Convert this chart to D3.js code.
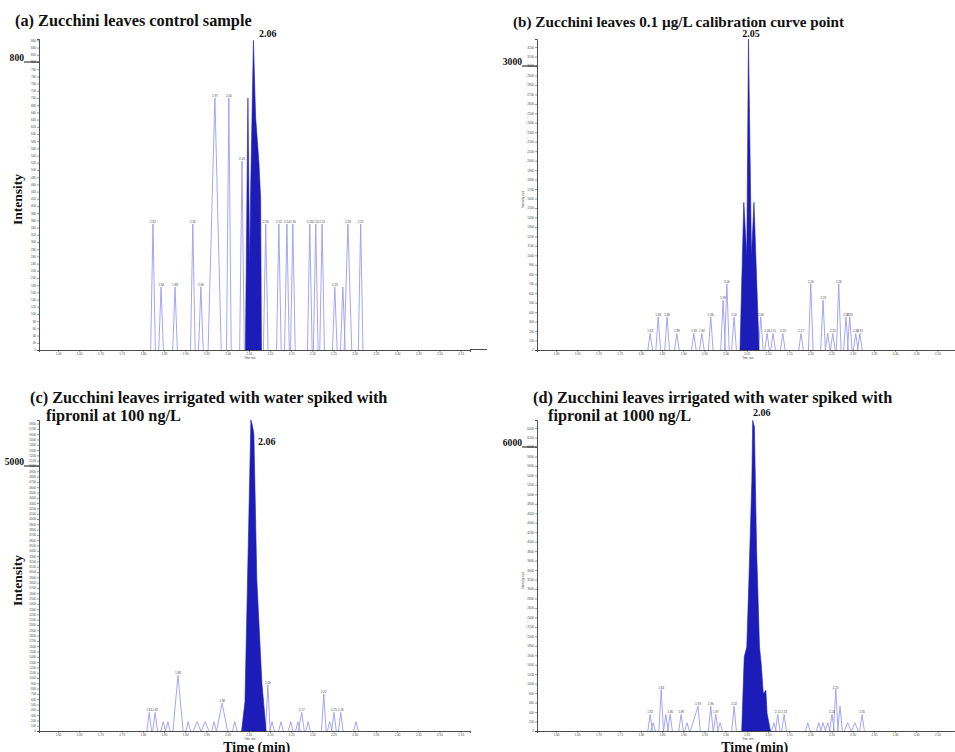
<!DOCTYPE html>
<html lang="en">
<head>
<meta charset="UTF-8">
<title>fipronil chromatograms</title>
<script src="https://cdn.jsdelivr.net/npm/d3@7"></script>
<style>
  body { margin: 0; background: #fff; }
  svg { display: block; }
  .serif { font-family: "Liberation Serif", "Times New Roman", serif; font-weight: bold; fill: #111; }
  .tiny { font-family: "Liberation Sans", Arial, sans-serif; fill: #444; }
</style>
</head>
<body>
<script>
// ---- data ----
// small peaks: [time (min), intensity, label, left half-width, right half-width]
const peaksA = [
  [1.824, 350, "1.82"], [1.843, 175, "1.84"], [1.876, 175, "1.88"],
  [1.918, 350, "1.92"], [1.937, 175, "1.94"], [1.970, 700, "1.97", 0.016, 0.015],
  [2.003, 700, "2.00"], [2.034, 525, "2.03"], [2.090, 350, "2.09"],
  [2.121, 350, "2.12"], [2.140, 350, "2.14"], [2.154, 350, "2.16"],
  [2.194, 350, "2.19"], [2.208, 350, "2.20"], [2.223, 350, "2.22"],
  [2.253, 175, "2.25"], [2.272, 175, ""], [2.284, 350, "2.28", 0.009, 0.009],
  [2.314, 350, "2.31"]
];
const peaksB = [
  [1.822, 175, "1.82"], [1.841, 350, "1.84"], [1.862, 350, "1.86"],
  [1.885, 175, "1.89"], [1.925, 175, "1.93"], [1.944, 175, "1.94"],
  [1.965, 350, "1.96"], [1.994, 525, "1.99"], [2.003, 700, "2.00"],
  [2.020, 350, "2.02"], [2.083, 350, "2.08"], [2.098, 175, "2.09"],
  [2.112, 175, "2.11"], [2.135, 175, "2.13"], [2.178, 175, "2.17"],
  [2.201, 700, "2.20"], [2.230, 525, "2.23"], [2.241, 175, ""],
  [2.253, 175, "2.25"], [2.267, 700, "2.26"], [2.284, 350, "2.28"],
  [2.293, 350, "2.29"], [2.307, 175, "2.30"], [2.317, 175, "2.31"]
];
const peaksC = [
  [1.815, 350, "1.81"], [1.829, 350, "1.82"], [1.848, 175, ""], [1.859, 175, ""],
  [1.883, 1050, "1.88", 0.012, 0.012], [1.907, 175, ""], [1.928, 175, "", 0.009, 0.009],
  [1.947, 175, "", 0.009, 0.009], [1.968, 175, ""], [1.987, 525, "1.98", 0.013, 0.013],
  [2.017, 175, ""], [2.095, 875, "2.09"], [2.105, 175, ""], [2.126, 175, ""],
  [2.149, 175, ""], [2.166, 175, ""], [2.175, 350, "2.17", 0.008, 0.006],
  [2.190, 175, ""], [2.227, 700, "2.22"], [2.241, 175, ""], [2.251, 350, "2.25"],
  [2.267, 350, "2.26"], [2.303, 175, ""]
];
const peaksD = [
  [1.822, 350, "1.82"], [1.829, 175, ""], [1.848, 875, "1.84"], [1.859, 350, ""],
  [1.869, 350, "1.86"], [1.895, 350, "1.89"], [1.909, 175, ""],
  [1.935, 525, "1.93", 0.018, 0.005], [1.965, 525, "1.96"], [1.977, 350, "1.97"],
  [1.987, 175, ""], [2.020, 525, "2.02"], [2.114, 175, ""], [2.123, 350, "2.12"],
  [2.138, 350, "2.13"], [2.194, 175, ""], [2.220, 175, ""], [2.230, 175, ""],
  [2.241, 175, ""], [2.251, 350, "2.24"], [2.260, 875, "2.25"], [2.270, 525, ""],
  [2.288, 175, "", 0.008, 0.008], [2.305, 175, "", 0.008, 0.008], [2.322, 350, "2.31"]
];

// fipronil peak outline (time, intensity)
const mainTimeA = [2.042, 2.048, 2.052, 2.054, 2.061, 2.066, 2.074, 2.078, 2.080];
const mainIntA = [0, 700, 230, 420, 860, 650, 520, 420, 0];
const mainTimeB = [2.034, 2.043, 2.050, 2.054, 2.061, 2.067, 2.079];
const mainIntB = [0, 1560, 986, 3285, 986, 1560, 0];
const mainTimeC = [2.033, 2.041, 2.055, 2.059, 2.062, 2.069, 2.081, 2.091];
const mainIntC = [0, 550, 5870, 5750, 5600, 2850, 900, 0];
const mainTimeD = [2.038, 2.044, 2.050, 2.055, 2.062, 2.064, 2.068, 2.073, 2.080, 2.084, 2.089, 2.095, 2.098, 2.106];
const mainIntD = [0, 1563, 1775, 3183, 5296, 6563, 6423, 3887, 1775, 1423, 789, 859, 366, 0];

const titleA = ["(a) Zucchini leaves control sample"];
const titleB = ["(b) Zucchini leaves 0.1 µg/L calibration curve point"];
const titleC = ["(c) Zucchini leaves irrigated with water spiked with", "fipronil at 100 ng/L"];
const titleD = ["(d) Zucchini leaves irrigated with water spiked with", "fipronil at 1000 ng/L"];

const apexLabels = ["2.06", "2.05", "2.06", "2.06"];
const refValues = [800, 3000, 5000, 6000];
const yStepValues = [20, 100, 100, 200];
const xTickValues = [1.60, 1.65, 1.70, 1.75, 1.80, 1.85, 1.90, 1.95, 2.00, 2.05,
  2.10, 2.15, 2.20, 2.25, 2.30, 2.35, 2.40, 2.45, 2.50, 2.55];
const timeDomain = [1.555, 2.572];

// ---- layout ----
const width = 955, height = 752;
const lineColor = "#9c9cf0";
const fillColor = "#1c1cb8";
const plotWidth = 431;

const svg = d3.select("body").append("svg")
  .attr("width", width)
  .attr("height", height);

const panels = [
  { title: titleA, titlePos: [[15, 26]], titleSize: 16.3, peaks: peaksA, mt: mainTimeA, mi: mainIntA,
    left: 39, baseY: 350, topY: 39, refY: 62, apexPos: [259, 37, "start"],
    bigY: true, tinyY: false, timeLabel: false },
  { title: titleB, titlePos: [[513, 27]], titleSize: 15.2, peaks: peaksB, mt: mainTimeB, mi: mainIntB,
    left: 537, baseY: 350, topY: 39, refY: 66, apexPos: [751, 37, "middle"],
    bigY: false, tinyY: true, timeLabel: false },
  { title: titleC, titlePos: [[30, 403], [46, 421]], titleSize: 16.3, peaks: peaksC, mt: mainTimeC, mi: mainIntC,
    left: 39, baseY: 731, topY: 420, refY: 466, apexPos: [258, 445, "start"],
    bigY: true, tinyY: false, timeLabel: true },
  { title: titleD, titlePos: [[533, 403], [548, 421]], titleSize: 16.3, peaks: peaksD, mt: mainTimeD, mi: mainIntD,
    left: 537, baseY: 731, topY: 420, refY: 447, apexPos: [753, 416, "start"],
    bigY: false, tinyY: true, timeLabel: true }
];

panels.forEach(function (p, i) {
  const g = svg.append("g");
  const refVal = refValues[i];
  const yTop = refVal * (p.baseY - p.topY) / (p.baseY - p.refY);
  const x = d3.scaleLinear().domain(timeDomain).range([p.left, p.left + plotWidth]);
  const y = d3.scaleLinear().domain([0, yTop]).range([p.baseY, p.topY]);

  // titles
  p.title.forEach(function (t, k) {
    g.append("text").attr("class", "serif")
      .attr("x", p.titlePos[k][0]).attr("y", p.titlePos[k][1])
      .style("font-size", p.titleSize + "px")
      .text(t);
  });

  // small peaks
  g.append("g").selectAll("path.peak")
    .data(p.peaks)
    .enter()
    .append("path")
    .attr("class", "peak")
    .attr("fill", "none")
    .attr("stroke", lineColor)
    .attr("stroke-width", 0.9)
    .attr("d", function (d) {
      const wl = d[3] || 0.0055, wr = d[4] || d[3] || 0.0055;
      return "M" + x(d[0] - wl) + "," + y(0) + "L" + x(d[0]) + "," + y(d[1]) +
        "L" + x(d[0] + wr) + "," + y(0);
    });

  g.append("g").selectAll("text")
    .data(p.peaks.filter(function (d) { return d[2]; }))
    .enter()
    .append("text")
    .attr("class", "tiny")
    .attr("x", function (d) { return x(d[0]); })
    .attr("y", function (d) { return y(d[1]) - 1; })
    .attr("text-anchor", "middle")
    .style("font-size", "3px")
    .text(function (d) { return d[2]; });

  // main fipronil peak
  const pts = p.mt.map(function (t, k) { return [t, p.mi[k]]; });
  g.append("path")
    .datum(pts)
    .attr("fill", fillColor)
    .attr("stroke", fillColor)
    .attr("stroke-width", 0.6)
    .attr("d", d3.area()
      .x(function (d) { return x(d[0]); })
      .y0(y(0))
      .y1(function (d) { return y(d[1]); }));

  // y axis
  const yTicks = d3.range(0, yTop, yStepValues[i]);
  const yAxis = g.append("g")
    .attr("transform", "translate(" + p.left + ",0)")
    .call(d3.axisLeft(y).tickValues(yTicks).tickSize(2).tickPadding(1)
      .tickFormat(d3.format("d")));
  yAxis.select(".domain").attr("stroke", "#222").attr("stroke-width", 0.8);
  yAxis.selectAll(".tick line").attr("stroke", "#333").attr("stroke-width", 0.5);
  yAxis.selectAll("text").attr("class", "tiny").style("font-size", "3px")
    .attr("font-family", null);

  // x axis with minor ticks, only what fits in the picture
  const minor = d3.range(0, 102).map(function (k) { return 1.56 + k * 0.01; })
    .filter(function (v) { return x(v) < width - 1; });
  const xMinor = g.append("g")
    .attr("transform", "translate(0," + p.baseY + ")")
    .call(d3.axisBottom(x).tickValues(minor).tickSize(1).tickFormat(""));
  xMinor.select(".domain").remove();
  xMinor.selectAll(".tick line").attr("stroke", "#444").attr("stroke-width", 0.4);

  const shownTicks = xTickValues.filter(function (v) { return x(v) < width - 6; });
  const xAxis = g.append("g")
    .attr("transform", "translate(0," + p.baseY + ")")
    .call(d3.axisBottom(x).tickValues(shownTicks).tickSize(2).tickPadding(1)
      .tickFormat(d3.format(".2f")));
  xAxis.select(".domain").attr("stroke", "#222").attr("stroke-width", 0.8);
  xAxis.selectAll(".tick line").attr("stroke", "#333").attr("stroke-width", 0.5);
  xAxis.selectAll("text").attr("class", "tiny").style("font-size", "3px")
    .attr("font-family", null);

  g.append("text").attr("class", "tiny")
    .attr("x", x(2.05) + 1).attr("y", p.baseY + 8.6)
    .attr("text-anchor", "middle")
    .style("font-size", "2.6px")
    .text("Time, min");

  // reference value marker
  g.append("line")
    .attr("x1", p.left - 15).attr("x2", p.left)
    .attr("y1", y(refVal)).attr("y2", y(refVal))
    .attr("stroke", "#111").attr("stroke-width", 1);
  g.append("text").attr("class", "serif")
    .attr("x", p.left - 15).attr("y", y(refVal) - 1.5)
    .attr("text-anchor", "end")
    .style("font-size", "9.6px")
    .text(refVal);

  // apex label
  g.append("text").attr("class", "serif")
    .attr("x", p.apexPos[0]).attr("y", p.apexPos[1])
    .attr("text-anchor", p.apexPos[2])
    .style("font-size", "10px")
    .text(apexLabels[i]);

  const midY = (p.baseY + p.topY) / 2 + 5;
  if (p.bigY) {
    g.append("text").attr("class", "serif")
      .attr("transform", "translate(" + (p.left - 17) + "," + midY + ") rotate(-90)")
      .attr("text-anchor", "middle")
      .style("font-size", "13.5px")
      .text("Intensity");
  }
  if (p.tinyY) {
    g.append("text").attr("class", "tiny")
      .attr("transform", "translate(" + (p.left - 13) + "," + midY + ") rotate(-90)")
      .attr("text-anchor", "middle")
      .style("font-size", "3px")
      .text("Intensity, cps");
  }
  if (p.timeLabel) {
    g.append("text").attr("class", "serif")
      .attr("x", x(2.05) + 8).attr("y", 751.5)
      .attr("text-anchor", "middle")
      .style("font-size", "14px")
      .text("Time (min)");
  }
});

// trailing axis stub at the right of panel (a)
svg.append("line")
  .attr("x1", 470).attr("x2", 487).attr("y1", 349.5).attr("y2", 349.5)
  .attr("stroke", "#222").attr("stroke-width", 0.8);
</script>
</body>
</html>
